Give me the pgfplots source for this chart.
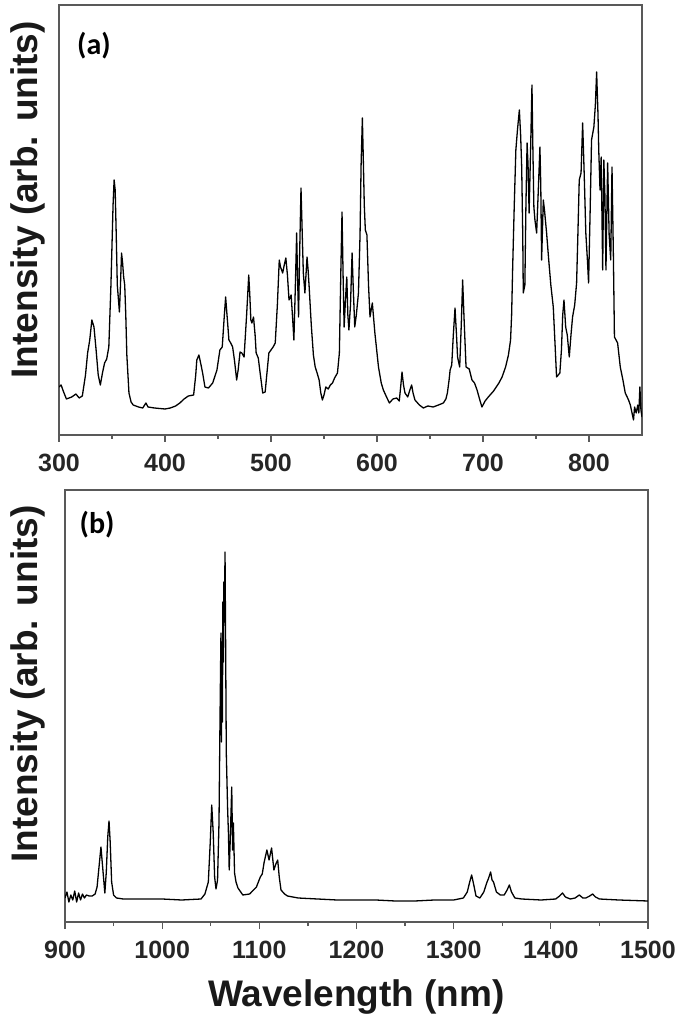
\documentclass[border=0pt]{standalone}
\usepackage{fontspec}
\setmainfont{Liberation Sans}
\newfontfamily\calib{Carlito}
\usepackage{pgfplots}
\pgfplotsset{compat=1.18}
\pgfplotsset{
  myax/.style={
    scale only axis,
    axis line style={black!65, line width=1.2bp},
    tick style={black!65, line width=1.2bp},
    tick align=outside,
    xtick pos=left,
    ytick=\empty,
    major tick length=7bp,
    minor tick length=4bp,
    minor x tick num=1,
    /pgf/number format/assume math mode=true,
    /pgf/number format/1000 sep={},
    xticklabel style={font=\fontsize{25bp}{25bp}\selectfont\bfseries, text=black!85, yshift=-9bp},
    ylabel={Intensity (arb. units)},
    ylabel style={font=\fontsize{37bp}{37bp}\selectfont\bfseries, text=black!90, anchor=center},
  },
  spec/.style={black, line width=1.3bp, line join=round, mark=none, no markers},
}
\pgfplotstableread{
x y
300 48
302 50
304 44
307 36
312 38
316 41
319 37
322 39
325 60
327 82
329 95
331 115
333 108
335 85
337 60
339 50
341 62
343 72
345 76
347 88
349 150
351 230
352 255
353 245
354 200
355 150
357 123
358 150
359 182
360 172
361 158
362 150
363 120
364 80
366 42
368 33
370 30
375 28
379 27
382 32
384 28
390 27
400 26
405 27
410 29
414 32
418 36
422 39
427 40
429 60
430 75
432 80
434 70
435.5 62
437.7 48
441 47
445 52
449 65
451.8 85
454 88
456 120
457.2 138
458.5 120
460.3 95
462 92
463.8 88
465.5 75
467.6 55
469 65
470.8 83
472.5 82
474.6 78
477 120
479 160
480 140
481 115
482 112
483.5 118
485 100
486 82
488 77
490 60
492.2 42
494.5 43
496 60
498 82
500 85
502 88
504 92
506 130
507.8 175
509 168
511 162
512.5 170
514 177
515.5 160
517 135
519 140
520.5 115
521.6 95
523 150
524.2 202
525 160
526 118
527 180
528.3 247
529.5 200
530.5 162
532 142
533 160
534 178
535 165
536 148
538 110
540 80
541.7 68
543.5 62
545.4 55
547 42
548.5 35
550 40
551.7 48
554 46
556 50
558 52
560 57
562.7 62
564.5 82
566 170
567 223
568 160
569 108
570.5 140
571.5 158
572.5 120
573.5 105
575 130
576.5 182
577.5 150
579 108
580.5 120
582.5 142
584 200
585 270
586.2 317
587 280
588 230
589 205
590.5 200
592 150
593.4 118
595.6 132
598 102
600 82
601.4 68
604 52
606 45
609 38
611.7 32
615 36
618.6 37
621 34
622.5 50
623.6 63
625 50
626.4 42
629 38
631 45
632.7 50
634 42
635.8 35
640 30
643.7 27
648 29
653 28
658 30
662.6 32
665 36
666.4 42
668 55
669 65
670.5 70
672 100
673.6 127
675 100
676 78
678 68
679.5 110
680.8 155
682 120
684 68
687 66
689.6 55
692 52
694.4 45
697 35
699 28
702 34
705 38
710 44
715 52
718 58
721.3 68
724 80
726 95
727 120
728 168
729.5 230
731 285
732.5 305
734.3 325
735.5 300
736.5 268
737.5 200
738 142
739.5 150
740.5 230
741.6 292
742.5 270
743.5 222
745 290
746.2 350
747 290
748 228
749 215
750.6 202
752 240
753.7 288
754.5 250
755.3 175
756.9 235
758 225
760 202
762 175
764 150
766.3 128
768 90
769.4 58
771 60
772.5 62
774 85
775.2 120
776.4 135
778 108
779.5 100
781.4 78
783 100
784.5 118
786.5 130
788.3 152
789.5 200
790.8 255
792.5 262
794 312
795.5 260
797 202
798.5 175
799.6 152
801 220
802.4 295
804.6 308
806 330
807.2 363
808.5 320
809.2 285
810.4 245
811.5 278
812.9 165
814 275
815 240
816 165
817.6 272
819 200
820.5 175
821.7 268
823 180
824 98
827 92
829.5 68
832 55
834.2 42
836 38
837.3 35
839 30
840 25
842 15
843 28
844.5 22
846 30
847 22
848 48
849 25
850 18
}\dataA
\pgfplotstableread{
x y
900 24
902 30
904 20
906 27
908 22
910 31
912 20
914 29
916 22
918 28
920 24
922 27
925 26
928 26
931 28
933 35
935 55
937 75
939 52
941 29
942.5 50
944 85
945.3 101
946.5 80
948 40
950 27
953 24
960 23
980 23
1000 23
1020 22
1040 23
1044 28
1047.5 40
1049.5 80
1051 117
1052.5 90
1054 45
1055.4 33
1057 42
1058.5 100
1059.5 200
1060.5 289
1061 180
1061.5 280
1062 200
1062.5 320
1063 260
1063.5 340
1064 300
1064.7 370
1065.3 280
1066 169
1067.4 112
1068.2 89
1069 52
1070 80
1071.6 135
1072.5 72
1073.3 99
1074.5 49
1076 40
1078 34
1083 27
1090 28
1097 35
1101 45
1103 48
1105 60
1107.8 72
1110 62
1112.6 74
1115 52
1117 58
1118.9 62
1120.5 45
1122.3 32
1126 28
1129 26
1140 24
1160 23
1180 22
1200 22
1220 22
1240 21
1260 21
1280 22
1300 22
1310 24
1314 30
1316.5 40
1318.5 47
1320.5 38
1323 26
1327 24
1331 30
1334 39
1336 44
1338 50
1339.5 42
1341 40
1344 30
1348 27
1352 27
1355 32
1357.3 37
1359.5 30
1363 24
1370 23
1390 22
1405 23
1409 26
1412 29
1415 25
1420 23
1425 24
1429.3 27
1433 24
1436 24
1440 26
1443 28
1446 25
1450 23
1470 22
1500 21
}\dataB
\begin{document}
\begin{tikzpicture}
\useasboundingbox (0,0) rectangle (685bp,1025bp);
\begin{axis}[myax,
  at={(59bp,590bp)}, anchor=south west,
  width=583bp, height=430bp,
  xmin=300, xmax=850, ymin=0, ymax=430,
  xtick={300,400,...,800},
  ylabel style={at={(axis description cs:-0.053,0.547)}},
]
\addplot[spec] table[x=x,y=y] {\dataA};
\node[font=\calib\bfseries\fontsize{30bp}{30bp}\selectfont] at (rel axis cs:0.060,0.905) {(a)};
\end{axis}
\begin{axis}[myax,
  at={(65bp,103bp)}, anchor=south west,
  width=583bp, height=432bp,
  xmin=900, xmax=1500, ymin=0, ymax=432,
  xtick={900,1000,...,1500},
  ylabel style={at={(axis description cs:-0.063,0.551)}},
  xlabel={Wavelength (nm)},
  xlabel style={font=\fontsize{37bp}{37bp}\selectfont\bfseries, text=black!90, at={(axis description cs:0.5,-0.174)}, anchor=center},
]
\addplot[spec] table[x=x,y=y] {\dataB};
\node[font=\calib\bfseries\fontsize{30bp}{30bp}\selectfont] at (rel axis cs:0.055,0.919) {(b)};
\end{axis}
\end{tikzpicture}
\end{document}
